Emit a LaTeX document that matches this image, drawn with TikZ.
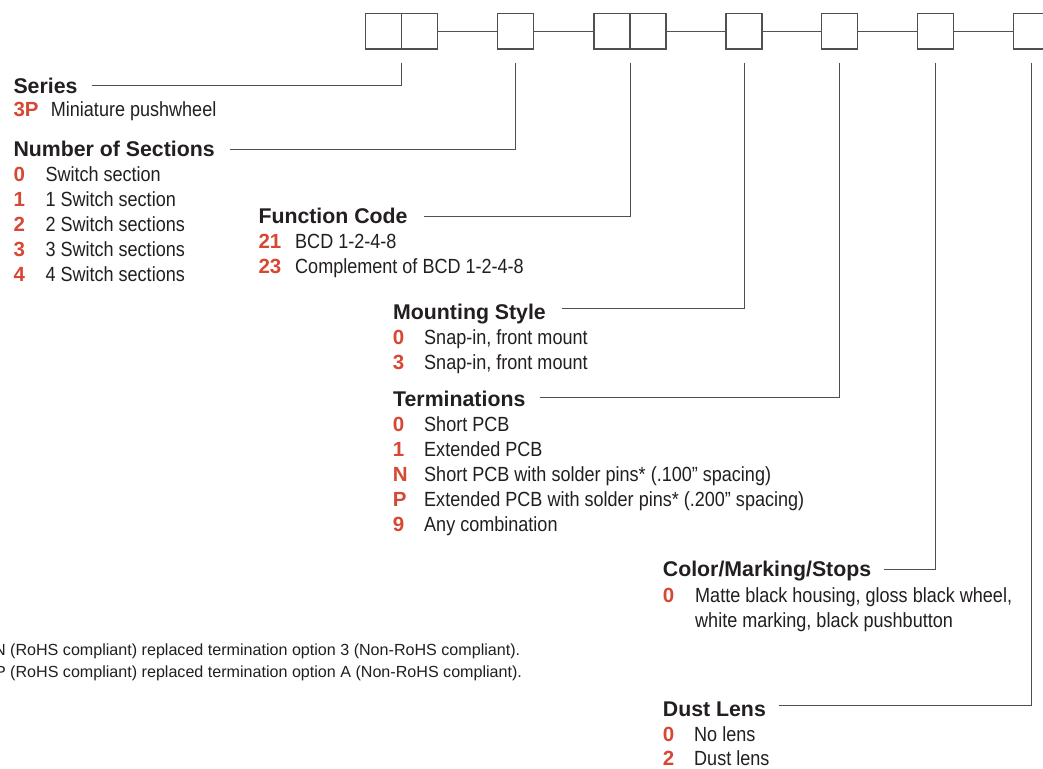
\documentclass[tikz,border=0pt]{standalone}
\usepackage{fontspec}
\setmainfont{Liberation Sans}
\newfontfamily\bodyfont[FakeStretch=0.88]{Liberation Sans}
\usetikzlibrary{calc}
\definecolor{codered}{RGB}{214,72,52}
\definecolor{txt}{RGB}{35,31,32}
\definecolor{ln}{RGB}{80,80,80}
\tikzset{
  cell/.style={draw=ln, line width=1.3pt, minimum width=36pt, minimum height=35.7pt, inner sep=0pt, outer sep=0pt},
  link/.style={draw=ln, line width=1pt},
  leader/.style={draw=ln, line width=1pt},
  head/.style={anchor=base west, inner sep=0pt, font=\fontsize{21.3}{24}\selectfont\bfseries, text=txt},
  code/.style={anchor=base west, inner sep=0pt, font=\fontsize{20.5}{24}\selectfont\bfseries, text=codered},
  item/.style={anchor=base west, inner sep=0pt, font=\bodyfont\fontsize{20.5}{24}\selectfont, text=txt},
  note/.style={anchor=base west, inner sep=0pt, font=\fontsize{16.1}{19}\selectfont, text=txt},
}
\begin{document}
\begin{tikzpicture}[x=1pt, y=-1pt]
\useasboundingbox (0,0) rectangle (1043,768);
\fill[white] (0,0) rectangle (1043,768);

% boxes
\node[cell] (b1a) at (383.7,31.2) {};
\node[cell] (b1b) at (419.7,31.2) {};
\node[cell] (b2)  at (515.7,31.2) {};
\node[cell] (b3a) at (612,31.2) {};
\node[cell] (b3b) at (648,31.2) {};
\node[cell] (b4)  at (744,31.2) {};
\node[cell] (b5)  at (839.7,31.2) {};
\node[cell] (b6)  at (935.7,31.2) {};
\node[cell] (b7)  at (1031.7,31.2) {};

\draw[link] (b1b.east) -- (b2.west);
\draw[link] (b2.east) -- (b3a.west);
\draw[link] (b3b.east) -- (b4.west);
\draw[link] (b4.east) -- (b5.west);
\draw[link] (b5.east) -- (b6.west);
\draw[link] (b6.east) -- (b7.west);

% leader end points below boxes
\coordinate (e1) at ([yshift=-14.3pt]b1a.south east);
\coordinate (e2) at ([yshift=-14.3pt]b2.south);
\coordinate (e3) at ([yshift=-14.3pt]b3a.south east);
\coordinate (e4) at ([yshift=-14.3pt]b4.south);
\coordinate (e5) at ([yshift=-14.3pt]b5.south);
\coordinate (e6) at ([yshift=-14.3pt]b6.south);
\coordinate (e7) at ([yshift=-14.3pt]b7.south);

% Series
\node[head] (hSer) at (13.3,93) {Series};
\node[code] (cSer) at (13.3,116.7) {3P};
\node[item] (tSer) at (50.7,116.7) {Miniature pushwheel};
\draw[leader] ($(hSer.base east)+(14,-8)$) -| (e1);

% Number of Sections
\node[head] (hNum) at (13.3,156.7) {Number of Sections};
\node[code] (cN0) at (13.3,181.7) {0};
\node[item] (tN0) at (45.3,181.7) {Switch section};
\node[code] (cN1) at (13.3,206.7) {1};
\node[item] (tN1) at (45.3,206.7) {1 Switch section};
\node[code] (cN2) at (13.3,231.7) {2};
\node[item] (tN2) at (45.3,231.7) {2 Switch sections};
\node[code] (cN3) at (13.3,256.7) {3};
\node[item] (tN3) at (45.3,256.7) {3 Switch sections};
\node[code] (cN4) at (13.3,281.7) {4};
\node[item] (tN4) at (45.3,281.7) {4 Switch sections};
\draw[leader] ($(hNum.base east)+(15,-7.7)$) -| (e2);

% Function Code
\node[head] (hFun) at (258.3,223.3) {Function Code};
\node[code] (cF1) at (258.3,248.3) {21};
\node[item] (tF1) at (295,248.3) {BCD 1-2-4-8};
\node[code] (cF2) at (258.3,273) {23};
\node[item] (tF2) at (295,273) {Complement of BCD 1-2-4-8};
\draw[leader] ($(hFun.base east)+(16,-7.3)$) -| (e3);

% Mounting Style
\node[head] (hMnt) at (393,319) {Mounting Style};
\node[code] (cM0) at (392.7,344) {0};
\node[item] (tM0) at (424,344) {Snap-in, front mount};
\node[code] (cM3) at (392.7,369) {3};
\node[item] (tM3) at (424,369) {Snap-in, front mount};
\draw[leader] ($(hMnt.base east)+(16,-11)$) -| (e4);

% Terminations
\node[head] (hTer) at (393,406) {Terminations};
\node[code] (cT0) at (392.7,431.7) {0};
\node[item] (tT0) at (424,431.7) {Short PCB};
\node[code] (cT1) at (392.7,456.7) {1};
\node[item] (tT1) at (424,456.7) {Extended PCB};
\node[code] (cTN) at (392.7,481.7) {N};
\node[item] (tTN) at (424,481.7) {Short PCB with solder pins* (.100” spacing)};
\node[code] (cTP) at (392.7,506.7) {P};
\node[item] (tTP) at (424,506.7) {Extended PCB with solder pins* (.200” spacing)};
\node[code] (cT9) at (392.7,531.7) {9};
\node[item] (tT9) at (424,531.7) {Any combination};
\draw[leader] ($(hTer.base east)+(14,-8.7)$) -| (e5);

% Color/Marking/Stops
\node[head] (hCol) at (662.7,576.7) {Color/Marking/Stops};
\node[code] (cC0) at (662.7,602.7) {0};
\node[item] (tC0) at (695,602.7) {Matte black housing, gloss black wheel,};
\node[item] (tC0b) at (695,627.3) {white marking, black pushbutton};
\draw[leader] ($(hCol.base east)+(13,-7.7)$) -| (e6);

% Dust Lens
\node[head] (hDus) at (662.7,716.7) {Dust Lens};
\node[code] (cD0) at (662.7,741.5) {0};
\node[item] (tD0) at (694,741.5) {No lens};
\node[code] (cD2) at (662.7,765.5) {2};
\node[item] (tD2) at (694,765.5) {Dust lens};
\draw[leader] ($(hDus.base east)+(13,-11)$) -| (e7);

% footnotes
\node[note] (n1) at (-6.1,655) {N (RoHS compliant) replaced termination option 3 (Non-RoHS compliant).};
\node[note] (n2) at (-5.2,677) {P (RoHS compliant) replaced termination option A (Non-RoHS compliant).};
\end{tikzpicture}
\end{document}
